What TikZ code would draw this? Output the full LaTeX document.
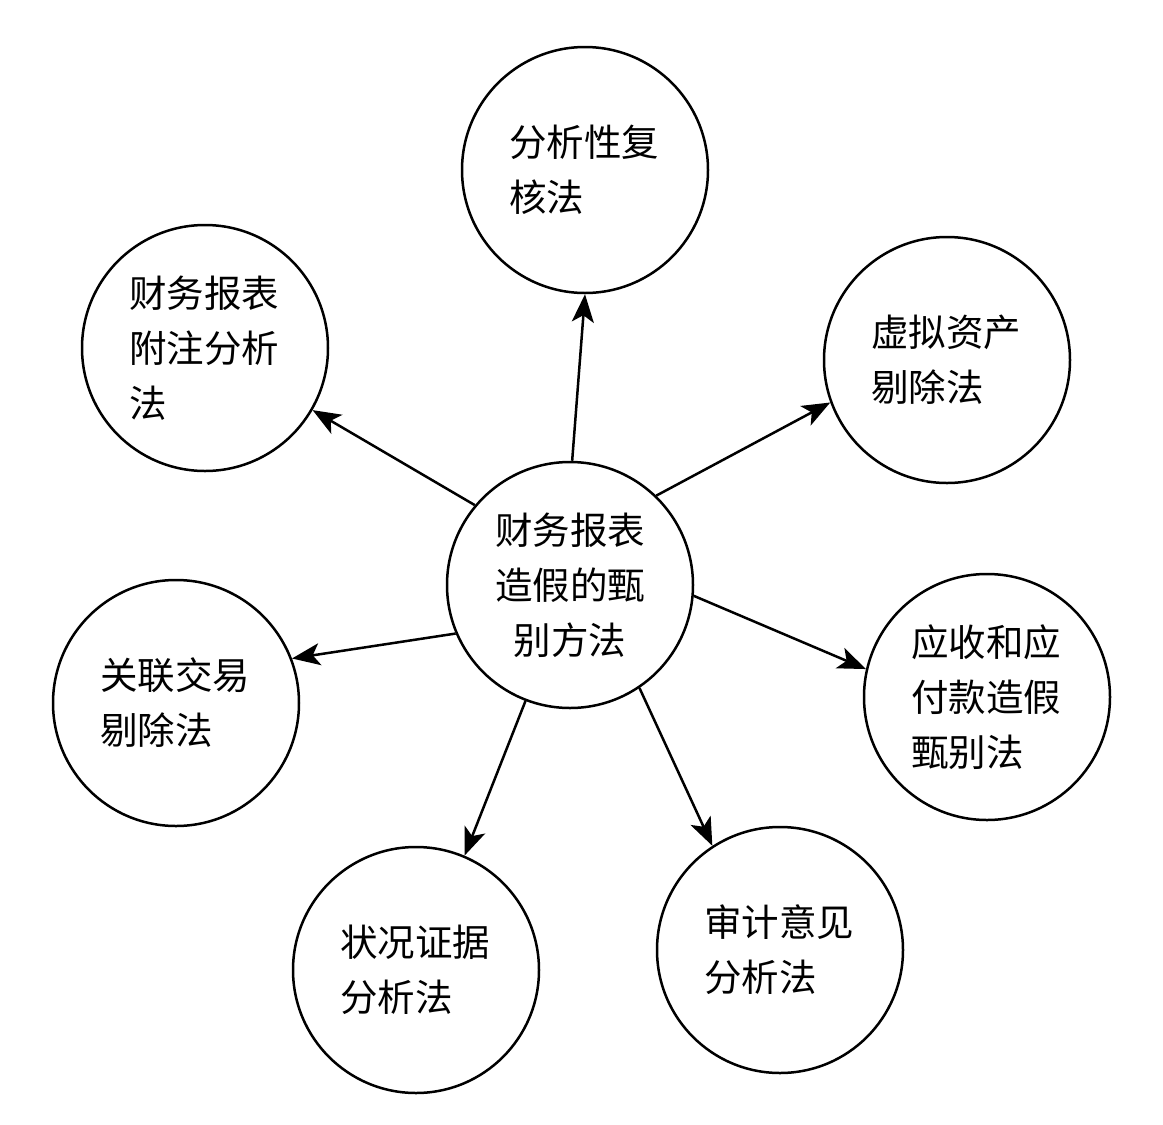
\documentclass[tikz,border=0pt]{standalone}
\usepackage{fontspec}
\newfontfamily\cjk{Noto Sans CJK SC}
\usetikzlibrary{arrows.meta}
\begin{document}
\begin{tikzpicture}[x=1pt,y=-1pt,
  circ/.style={circle,draw,line width=2.5pt,minimum size=246pt,inner sep=0pt,
    font={\cjk\fontsize{37.5}{55}\selectfont},text width=152pt,align=left},
  ccirc/.style={circ,align=center},
  arr/.style={line width=2.5pt,-{Stealth[length=28pt,width=22pt,inset=7pt]}}]
\useasboundingbox (0,0) rectangle (1163,1125);
\node[ccirc] (c) at (570,585) {财务报表\\造假的甄\\别方法};
\node[circ] (t) at (585,170) {分析性复\\核法};
\node[circ] (tl) at (205,348) {财务报表\\附注分析\\法};
\node[circ] (tr) at (947,360) {虚拟资产\\剔除法};
\node[circ] (l) at (176,703) {关联交易\\剔除法};
\node[circ] (r) at (987,697) {应收和应\\付款造假\\甄别法};
\node[circ] (bl) at (416,970) {状况证据\\分析法};
\node[circ] (br) at (780,950) {审计意见\\分析法};
\draw[arr] (c.89) -- (t.270);
\draw[arr] (c.140.6) -- (tl.-30.5);
\draw[arr] (c.46.5) -- (tr.200.5);
\draw[arr] (c.203.2) -- (l.21.6);
\draw[arr] (c.-5.8) -- (r.167.5);
\draw[arr] (c.249.5) -- (bl.67.3);
\draw[arr] (c.304.2) -- (br.123.7);
\end{tikzpicture}
\end{document}
